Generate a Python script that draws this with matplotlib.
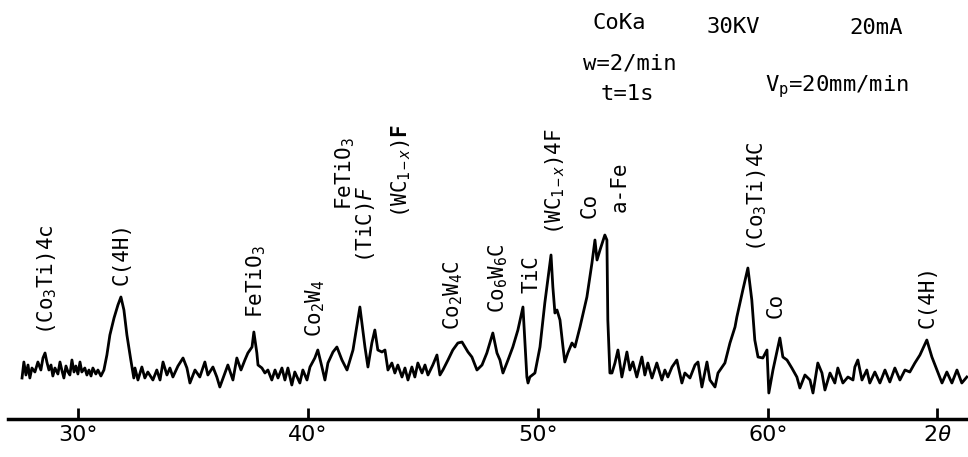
import matplotlib
matplotlib.use("Agg")
import matplotlib.pyplot as plt

plt.rcParams['mathtext.fontset'] = 'custom'
plt.rcParams['mathtext.rm'] = 'DejaVu Sans Mono'
plt.rcParams['mathtext.it'] = 'DejaVu Sans Mono:italic'
plt.rcParams['mathtext.bf'] = 'DejaVu Sans Mono:bold'

# diffraction trace (2theta in degrees, intensity arbitrary)
two_theta = [
    27.57, 27.65, 27.74, 27.83, 27.91, 28.00, 28.13, 28.26, 28.39, 28.48, 28.57, 28.65,
    28.74, 28.83, 28.91, 29.00, 29.13, 29.22, 29.30, 29.39, 29.48, 29.57, 29.65, 29.74,
    29.83, 29.91, 30.00, 30.09, 30.17, 30.30, 30.39, 30.48, 30.57, 30.65, 30.78, 30.87,
    31.00, 31.13, 31.26, 31.39, 31.57, 31.74, 31.87, 32.00, 32.13, 32.30, 32.43,
    32.48, 32.61, 32.78, 32.91, 33.04, 33.26, 33.43, 33.57, 33.70, 33.87, 34.00, 34.13,
    34.35, 34.57, 34.74, 34.87, 35.09, 35.30, 35.52, 35.65, 35.87, 36.04, 36.17, 36.39,
    36.52, 36.74, 36.91, 37.09,
    37.26, 37.39, 37.57, 37.65, 37.78, 37.83, 38.00, 38.13, 38.26, 38.43, 38.57, 38.70,
    38.87, 39.00, 39.13, 39.30, 39.43, 39.65, 39.78, 39.96, 40.09, 40.30, 40.43, 40.61,
    40.74, 40.87, 41.09, 41.26, 41.48, 41.70, 41.96, 42.26,
    42.48, 42.61, 42.78, 42.91, 43.04, 43.22, 43.35, 43.48, 43.65, 43.78, 43.91, 44.09,
    44.22, 44.35, 44.52, 44.65, 44.78, 44.96, 45.09, 45.22, 45.43, 45.61, 45.74, 45.87,
    46.09, 46.30, 46.52, 46.70, 46.83, 46.96, 47.13, 47.35, 47.57,
    47.78, 48.04, 48.22, 48.35, 48.48, 48.70, 48.91, 49.13, 49.35, 49.52, 49.57, 49.65,
    49.87, 50.09, 50.30, 50.43, 50.57, 50.65, 50.74, 50.83, 50.96, 51.09, 51.17, 51.30,
    51.48, 51.61, 51.83, 52.13, 52.35, 52.48, 52.57, 52.70, 52.91, 53.00, 53.04, 53.13,
    53.22, 53.35, 53.48, 53.65, 53.87, 54.00, 54.13, 54.30, 54.52, 54.65, 54.78, 54.96,
    55.17, 55.39, 55.52, 55.65, 55.83, 56.04, 56.26, 56.39, 56.61, 56.83, 56.96, 57.13,
    57.35, 57.48, 57.70, 57.83, 58.13, 58.35, 58.57,
    58.65, 58.91, 59.13, 59.30, 59.43, 59.57, 59.78, 59.96, 60.04, 60.22, 60.52, 60.65,
    60.83, 61.04, 61.26, 61.39, 61.61, 61.83, 61.96, 62.17, 62.35, 62.48, 62.70, 62.91,
    63.04, 63.26, 63.48, 63.70,
    63.78, 63.91, 64.09, 64.30, 64.43, 64.65, 64.87, 65.09, 65.30, 65.52, 65.74, 65.96,
    66.17, 66.39, 66.61, 66.91, 67.13, 67.35, 67.57, 67.78, 68.00, 68.22, 68.43, 68.65,
]
intensity = [
    22, 38, 25, 35, 22, 32, 28, 38, 30, 42, 47, 38,
    30, 35, 24, 32, 26, 38, 30, 22, 34, 28, 25, 40,
    28, 34, 26, 38, 28, 32, 25, 30, 24, 32, 26, 30,
    24, 30, 45, 65, 82, 95, 103, 90, 65, 40, 22,
    32, 20, 33, 22, 28, 20, 30, 20, 38, 25, 32, 23,
    34, 42, 32, 17, 30, 23, 38, 25, 33, 23, 13, 27,
    35, 20, 42, 30,
    40, 47, 53, 68, 47, 35, 32, 27, 30, 20, 30, 22,
    32, 20, 32, 15, 28, 17, 30, 20, 33, 42, 50, 33,
    20, 37, 48, 53, 40, 30, 50, 93,
    53, 33, 57, 70, 50, 48, 50, 30, 37, 27, 35, 23,
    32, 20, 33, 23, 37, 27, 35, 25, 35, 45, 25, 30,
    40, 50, 57, 58, 53, 48, 43, 30, 35,
    47, 67, 47, 40, 27, 40, 53, 70, 93, 23, 17, 23,
    27, 53, 97, 120, 145, 113, 87, 90, 80, 53, 38, 47,
    57, 53, 73, 103, 137, 160, 140, 150, 165, 160, 80, 27,
    27, 37, 50, 23, 48, 30, 38, 23, 43, 25, 37, 22,
    37, 20, 30, 23, 33, 40, 17, 27, 22, 35, 38, 13,
    38, 20, 13, 27, 37, 57, 73,
    83, 110, 132, 100, 60, 43, 42, 50, 7, 30, 62, 43,
    40, 32, 23, 12, 25, 20, 7, 37, 27, 10, 27, 17,
    32, 17, 23, 20,
    33, 40, 20, 30, 17, 28, 17, 30, 18, 32, 20, 30,
    28, 37, 45, 60, 43, 30, 17, 28, 17, 30, 17, 23,
]

# phase labels: text, 2theta, intensity at the bottom of the label
peak_labels = [r'(Co$_3$Ti)4c', 'C(4H)', r'FeTiO$_3$', r'Co$_2$W$_4$', r'FeTiO$_3$',
               r'(TiC)$\it{F}$', r'(WC$_{1-x}$)$\mathbf{F}$', r'Co$_2$W$_4$C', r'Co$_6$W$_6$C',
               'TiC', r'(WC$_{1-x}$)4F', 'Co', 'a-Fe', r'(Co$_3$Ti)4C', 'Co', 'C(4H)']
label_theta = [28.65, 31.91, 37.74, 40.30, 41.62, 42.50, 44.04, 46.30, 48.26,
               49.70, 50.74, 52.26, 53.57, 59.52, 60.35, 66.96]
label_int = [65, 115, 82, 63, 190, 137, 182, 70, 87, 107, 165, 182, 188, 148, 82, 72]

tick_pos = [30, 40, 50, 60, 67.35]
tick_text = ['30°', '40°', '50°', '60°', r'2$\it{\theta}$']

fig = plt.figure(figsize=(9.68, 4.57), dpi=100)
ax = fig.add_axes([8 / 968, 38 / 457, 960 / 968, 419 / 457])
ax.plot(two_theta, intensity, color='black', lw=2.0)

for txt, t, i in zip(peak_labels, label_theta, label_int):
    ax.text(t, i, txt, rotation=90, ha='center', va='bottom',
            fontsize=15, family='DejaVu Sans Mono')

ax.set_xlim(26.96, 68.70)
ax.set_ylim(-19, 400)
for s in ['top', 'left', 'right']:
    ax.spines[s].set_visible(False)
ax.spines['bottom'].set_linewidth(2.5)
ax.set_yticks([])
ax.set_xticks(tick_pos)
ax.set_xticklabels(tick_text)
ax.tick_params(axis='x', direction='in', length=8, width=2, labelsize=16, pad=4)

mono = dict(family='DejaVu Sans Mono', fontsize=16)
fig.text(0.640, 0.950, 'CoKa', ha='center', va='center', **mono)
fig.text(0.758, 0.941, '30KV', ha='center', va='center', **mono)
fig.text(0.905, 0.939, '20mA', ha='center', va='center', **mono)
fig.text(0.651, 0.862, 'w=2/min', ha='center', va='center', **mono)
fig.text(0.648, 0.794, 't=1s', ha='center', va='center', **mono)
fig.text(0.790, 0.799, r'V$_{\mathrm{p}}$=20mm/min', ha='left', va='baseline', **mono)

fig.savefig('out.png', dpi=100)
